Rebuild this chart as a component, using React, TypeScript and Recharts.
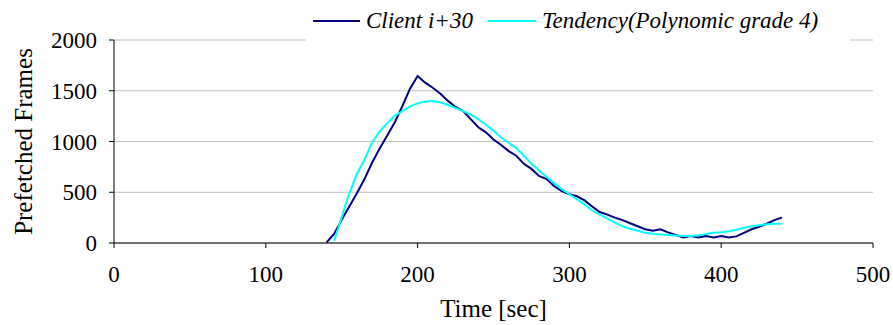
import { LineChart, Line, XAxis, YAxis, CartesianGrid, Legend } from "recharts";

// sample times (sec), one point every 5 s
const times = [
  140, 145, 150, 155, 160, 165, 170, 175, 180, 185, 190, 195, 200, 205, 210, 215,
  220, 225, 230, 235, 240, 245, 250, 255, 260, 265, 270, 275, 280, 285, 290, 295,
  300, 305, 310, 315, 320, 325, 330, 335, 340, 345, 350, 355, 360, 365, 370, 375,
  380, 385, 390, 395, 400, 405, 410, 415, 420, 425, 430, 435, 440,
];

const clientFrames = [
  5, 90, 230, 360, 490, 630, 790, 930, 1060, 1190, 1350, 1520, 1645, 1580, 1530, 1470,
  1400, 1340, 1300, 1220, 1140, 1090, 1020, 965, 905, 860, 780, 730, 660, 630, 560, 510,
  480, 460, 420, 360, 305, 280, 250, 225, 195, 165, 135, 120, 135, 105, 80, 55,
  70, 55, 70, 55, 70, 55, 65, 100, 135, 160, 190, 225, 250,
];

const trendFrames = [
  null, 20, 255, 490, 680, 820, 990, 1100, 1180, 1255, 1300, 1345, 1375, 1395, 1400, 1385,
  1360, 1330, 1300, 1265, 1220, 1165, 1105, 1040, 985, 935, 860, 780, 715, 650, 590, 530,
  480, 430, 380, 320, 280, 240, 200, 165, 140, 120, 100, 90, 85, 80, 75, 70,
  70, 75, 90, 100, 105, 115, 130, 150, 165, 175, 185, 190, 190,
];

const xTicks = [0, 100, 200, 300, 400, 500];
const yTicks = [0, 500, 1000, 1500, 2000];

const data = times.map((t, i) => ({
  time: t,
  client: clientFrames[i],
  trend: trendFrames[i],
}));

const serif = "Liberation Serif";

const LegendBox = () => (
  <div
    style={{
      display: "flex",
      alignItems: "center",
      height: "100%",
      background: "#fff",
      fontFamily: serif,
      fontStyle: "italic",
      fontSize: 23,
      color: "#000",
      paddingLeft: 7,
      boxSizing: "border-box",
    }}
  >
    <span style={{ width: 47, height: 2, background: "#000080", marginRight: 6 }} />
    <span>Client i+30</span>
    <span style={{ width: 48, height: 2, background: "#00ffff", marginLeft: 15, marginRight: 6 }} />
    <span>Tendency(Polynomic grade 4)</span>
  </div>
);

const tickStyle = { fill: "#000", fontSize: 23, fontFamily: serif };

export default function App() {
  return (
    <div style={{ position: "absolute", left: 0, top: 0, fontFamily: serif }}>
      <LineChart
        width={893}
        height={325}
        data={data}
        margin={{ top: 40, right: 20, left: 0, bottom: 0 }}
      >
        <CartesianGrid vertical={false} stroke="#c0c0c0" />
        <XAxis
          dataKey="time"
          type="number"
          domain={[0, 500]}
          ticks={xTicks}
          height={82}
          tickSize={5}
          tickMargin={18}
          stroke="#000"
          tick={tickStyle}
          label={{
            value: "Time [sec]",
            position: "insideBottom",
            offset: 8,
            fill: "#000",
            fontSize: 25,
            fontFamily: serif,
          }}
        />
        <YAxis
          domain={[0, 2000]}
          ticks={yTicks}
          width={114}
          tickSize={5}
          tickMargin={12}
          stroke="#000"
          tick={tickStyle}
          label={{
            value: "Prefetched Frames",
            angle: -90,
            position: "insideLeft",
            offset: 23,
            fill: "#000",
            fontSize: 25,
            fontFamily: serif,
            style: { textAnchor: "middle" },
          }}
        />
        <Legend
          layout="vertical"
          align="center"
          verticalAlign="middle"
          content={<LegendBox />}
          wrapperStyle={{ left: 306, top: 0, width: 544, height: 42 }}
        />
        <Line
          type="linear"
          dataKey="client"
          stroke="#000080"
          strokeWidth={2}
          dot={false}
          isAnimationActive={false}
        />
        <Line
          type="linear"
          dataKey="trend"
          stroke="#00ffff"
          strokeWidth={2}
          dot={false}
          isAnimationActive={false}
        />
      </LineChart>
    </div>
  );
}
